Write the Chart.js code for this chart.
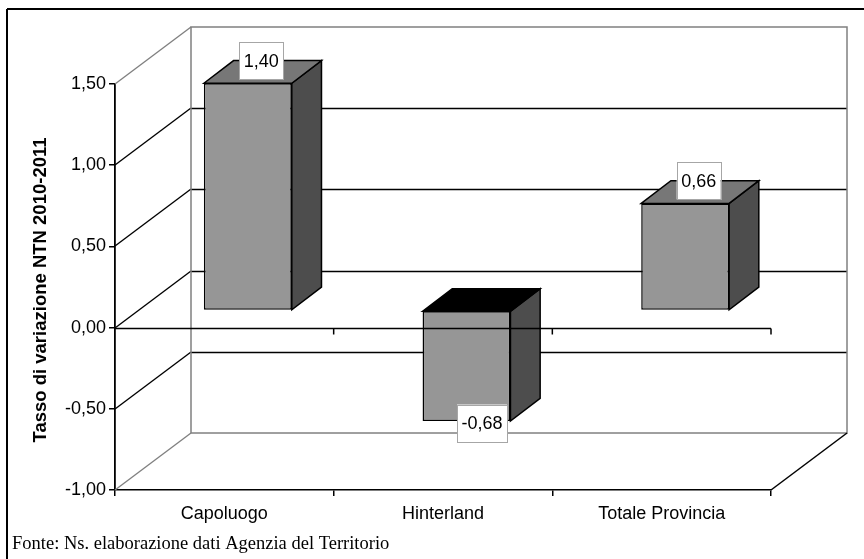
<!DOCTYPE html>
<html>
<head>
<meta charset="utf-8">
<title>Tasso di variazione NTN 2010-2011</title>
<script src="https://cdn.jsdelivr.net/npm/chart.js@4"></script>
<style>
  html, body { margin: 0; padding: 0; background: #fff; }
  canvas { display: block; }
</style>
</head>
<body>
<canvas id="chart" width="864" height="559"></canvas>
<script>
// --- Data ---
const categories = ['Capoluogo', 'Hinterland', 'Totale Provincia'];
const values = [1.40, -0.68, 0.66];
const yTicks = [1.5, 1.0, 0.5, 0.0, -0.5, -1.0];
const yTitle = 'Tasso di variazione NTN 2010-2011';
const source = 'Fonte: Ns. elaborazione dati Agenzia del Territorio';

const comma = v => Number(v).toFixed(2).replace('.', ',');

// --- 3D look: depth offsets of the box ---
const wall = { dx: 76, dy: -57 };    // back wall against the front plane
const front = { dx: 23.5, dy: -17 }; // front face of the bars
const side = { dx: 29.7, dy: -22.7 };  // thickness of the bars

function line(ctx, x1, y1, x2, y2, color, width) {
    ctx.strokeStyle = color;
    ctx.lineWidth = width;
    ctx.beginPath();
    ctx.moveTo(x1, y1);
    ctx.lineTo(x2, y2);
    ctx.stroke();
}

function face(ctx, pts, color) {
    ctx.fillStyle = color;
    ctx.strokeStyle = '#000';
    ctx.lineWidth = 1.5;
    ctx.beginPath();
    pts.forEach((p, i) => i ? ctx.lineTo(p[0], p[1]) : ctx.moveTo(p[0], p[1]));
    ctx.closePath();
    ctx.fill();
    ctx.stroke();
}

const box3d = {
    id: 'box3d',
    beforeDraw(chart) {
        const { ctx } = chart;
        ctx.save();
        // outer frame, open on the right and at the bottom
        line(ctx, 7, 559, 7, 9, '#000', 2);
        line(ctx, 7, 9, 864, 9, '#000', 2);
        ctx.font = '18.5px "Liberation Serif"';
        ctx.fillStyle = '#000';
        ctx.textBaseline = 'alphabetic';
        ctx.fillText(source, 12, 549);
        // axis title sits a little below the middle of the plot
        ctx.translate(41, 290);
        ctx.rotate(-Math.PI / 2);
        ctx.font = 'bold 18.5px "Liberation Sans"';
        ctx.textAlign = 'center';
        ctx.textBaseline = 'middle';
        ctx.fillText(yTitle, 0, 0);
        ctx.restore();
    },
    beforeDatasetsDraw(chart) {
        const { ctx, chartArea: a, scales: { y } } = chart;
        ctx.save();
        // grid on the back wall and on the left wall
        yTicks.forEach(t => {
            const py = Math.round(y.getPixelForValue(t));
            const edge = t === 1.5 || t === -1.0;
            line(ctx, a.left, py, a.left + wall.dx, py + wall.dy, edge ? '#808080' : '#000', 1.4);
            if (!edge) line(ctx, a.left + wall.dx, py + wall.dy + 0.5, a.right + wall.dx, py + wall.dy + 0.5, '#000', 1.5);
        });
        const wt = Math.round(y.getPixelForValue(1.5)) + wall.dy;
        const wb = Math.round(y.getPixelForValue(-1)) + wall.dy;
        ctx.strokeStyle = '#808080';
        ctx.lineWidth = 1.5;
        ctx.strokeRect(a.left + wall.dx, wt, a.right - a.left, wb - wt);
        line(ctx, a.right, wb - wall.dy, a.right + wall.dx, wb, '#000', 1.5);

        // top and side of each bar, the front face is the library's own bar
        chart.getDatasetMeta(0).data.forEach((bar, i) => {
            const l = bar.x - bar.width / 2 + front.dx;
            const r = bar.x + bar.width / 2 + front.dx;
            const t = Math.min(bar.y, bar.base) + front.dy;
            const b = Math.max(bar.y, bar.base) + front.dy;
            face(ctx, [[r, t], [r + side.dx, t + side.dy], [r + side.dx, b + side.dy], [r, b]], '#4d4d4d');
            face(ctx, [[l, t], [l + side.dx, t + side.dy], [r + side.dx, t + side.dy], [r, t]],
                values[i] < 0 ? '#000' : '#777777');
        });
        ctx.restore();
        // the front faces are shifted into the depth of the box
        ctx.save();
        ctx.translate(front.dx, front.dy);
    },
    afterDatasetsDraw(chart) {
        const { ctx, chartArea: a, scales: { x, y } } = chart;
        ctx.restore();
        ctx.save();
        // zero line with its ticks passes in front of the bars
        const zero = Math.round(y.getPixelForValue(0)) + 0.5;
        line(ctx, a.left, zero, a.right, zero, '#000', 1.5);
        const step = (a.right - a.left) / categories.length;
        categories.forEach((c, i) => {
            const px = x.getPixelForValue(i) + step / 2;
            line(ctx, px, zero, px, zero + 6, '#000', 1.5);
        });
        // value labels
        ctx.font = '18px "Liberation Sans"';
        ctx.textAlign = 'center';
        ctx.textBaseline = 'middle';
        chart.getDatasetMeta(0).data.forEach((bar, i) => {
            const neg = values[i] < 0;
            const cx = bar.x + front.dx + (neg ? 15.5 : 13.5);
            const cy = bar.y + front.dy + (neg ? 2 : -22.5);
            const text = comma(values[i]);
            const w = ctx.measureText(text).width + 9;
            const h = 37;
            ctx.fillStyle = '#fff';
            ctx.fillRect(cx - w / 2, cy - h / 2, w, h);
            ctx.strokeStyle = '#a6a6a6';
            ctx.lineWidth = 1;
            ctx.strokeRect(Math.round(cx - w / 2) + 0.5, Math.round(cy - h / 2) + 0.5, Math.round(w), h);
            ctx.fillStyle = '#000';
            ctx.fillText(text, cx, cy + 1);
        });
        ctx.restore();
    }
};

new Chart(document.getElementById('chart'), {
    type: 'bar',
    data: {
        labels: categories,
        datasets: [{
            data: values,
            backgroundColor: '#969696',
            borderColor: '#000',
            borderWidth: 1.5,
            borderSkipped: false,
            barPercentage: 0.402,
            categoryPercentage: 1
        }]
    },
    options: {
        responsive: false,
        animation: false,
        layout: { padding: { left: 0, top: 84, right: 93, bottom: 29 } },
        plugins: { legend: { display: false }, tooltip: { enabled: false } },
        scales: {
            x: {
                afterFit: s => { s.height = 40; },
                grid: { offset: true, drawOnChartArea: false, color: '#000', lineWidth: 1.5, tickLength: 6 },
                border: { color: '#000', width: 1.5 },
                ticks: { color: '#000', font: { family: 'Liberation Sans', size: 18 }, padding: 7, maxRotation: 0 }
            },
            y: {
                min: -1,
                max: 1.5,
                afterFit: s => { s.width = 115; },
                grid: { drawOnChartArea: false, color: '#000', lineWidth: 1.5, tickLength: 6 },
                border: { color: '#000', width: 1.8 },
                ticks: { stepSize: 0.5, color: '#000', font: { family: 'Liberation Sans', size: 18 }, padding: 3, callback: v => comma(v) }
            }
        }
    },
    plugins: [box3d]
});
</script>
</body>
</html>
